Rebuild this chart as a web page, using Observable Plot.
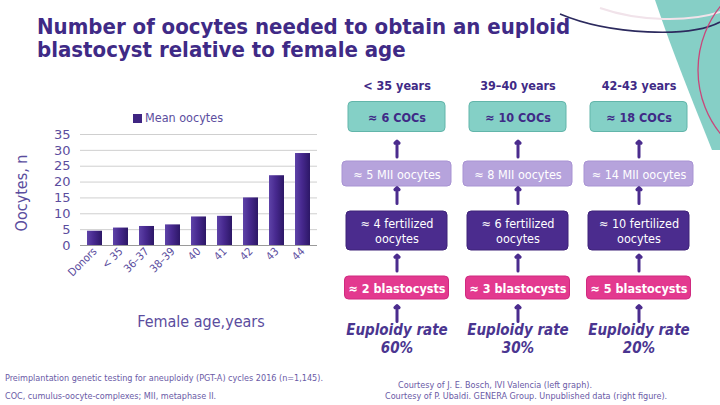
<!DOCTYPE html>
<html><head><meta charset="utf-8">
<script src="https://cdn.jsdelivr.net/npm/d3@7"></script>
<script src="https://cdn.jsdelivr.net/npm/@observablehq/plot@0.6"></script>
<style>
body{margin:0;background:#fff;}
#page{position:relative;width:720px;height:405px;overflow:hidden;font-family:"DejaVu Sans Condensed","DejaVu Sans",sans-serif;background:#fff;}
#page > *{position:absolute;}
.title{left:37px;top:15px;font-size:22px;font-weight:bold;color:#3f2a86;line-height:23px;white-space:nowrap;}
.legend{left:133px;top:110px;font-size:12.5px;color:#5b4d9e;white-space:nowrap;}
.legend span{display:inline-block;width:9px;height:9px;background:#3f2582;margin-right:3px;vertical-align:-1px;}
.ylab{left:21px;top:193px;font-size:16px;color:#5b4d9e;transform:translate(-50%,-50%) rotate(-90deg);white-space:nowrap;}
.xlab{left:201px;top:321px;font-size:16px;color:#5b4d9e;transform:translate(-50%,-50%);white-space:nowrap;}
.foot{font-size:9px;color:#6a5aa6;white-space:nowrap;}
</style></head><body>
<div id="page">
  <svg width="720" height="405" style="left:0;top:0">
    <path d="M655,0 C670,45 690,95 712,150 L720,150 L720,0 Z" fill="#86cfc6"/>
    <path d="M560,14 C610,35 690,38 720,22" fill="none" stroke="#2c2a5e" stroke-width="1.6"/>
    <path d="M600,8 C640,22 690,22 720,12" fill="none" stroke="#f1e3ea" stroke-width="2"/>
    <circle cx="800" cy="70" r="102" fill="none" stroke="#c9467a" stroke-width="1.3"/>
  </svg>
  <div class="title">Number of oocytes needed to obtain an euploid<br>blastocyst relative to female age</div>
  <div class="legend"><span></span>Mean oocytes</div>
  <div class="ylab">Oocytes, n</div>
  <div class="xlab">Female age,years</div>
  <div id="chart" style="left:0;top:100px"></div>
  <div id="flow" style="left:330px;top:70px"></div>
  <div class="foot" style="left:5px;top:373px">Preimplantation genetic testing for aneuploidy (PGT-A) cycles 2016 (n=1,145).</div>
  <div class="foot" style="left:5px;top:391px">COC, cumulus-oocyte-complexes; MII, metaphase II.</div>
  <div class="foot" style="right:128px;top:380px">Courtesy of J. E. Bosch, IVI Valencia (left graph).</div>
  <div class="foot" style="left:385px;top:391px">Courtesy of P. Ubaldi. GENERA Group. Unpublished data (right figure).</div>
</div>
<script>
// ---- data ----
const ageGroups = ["Donors", "< 35", "36–37", "38–39", "40", "41", "42", "43", "44"];
const meanOocytes = [4.5, 5.5, 6, 6.5, 9, 9.2, 15, 22, 29];
const yTicks = [0, 5, 10, 15, 20, 25, 30, 35];

const flowGroups = ["< 35 years", "39–40 years", "42-43 years"];
const cocs = [6, 10, 18];
const miiOocytes = [5, 8, 14];
const fertilized = [4, 6, 10];
const blastocysts = [2, 3, 5];
const euploidyRate = [60, 30, 20];
const stages = ["COCs", "MII", "fertilized", "blastocysts"];

// ---- bar chart ----
const bars = ageGroups.map((g, i) => ({group: g, value: meanOocytes[i]}));
const defs = () => {
  const d = d3.create("svg:defs");
  const g = d.append("linearGradient").attr("id", "barGrad").attr("x1", 0).attr("x2", 1).attr("y1", 0).attr("y2", 0);
  g.append("stop").attr("offset", "0%").attr("stop-color", "#5e43a8");
  g.append("stop").attr("offset", "45%").attr("stop-color", "#47298f");
  g.append("stop").attr("offset", "100%").attr("stop-color", "#2c1766");
  return d.node();
};
const chart = Plot.plot({
  width: 330, height: 200,
  marginLeft: 80, marginRight: 13, marginTop: 34, marginBottom: 55,
  style: {fontFamily: "DejaVu Sans Condensed, DejaVu Sans, sans-serif", color: "#5b4d9e", background: "transparent", overflow: "visible"},
  x: {type: "band", domain: ageGroups, paddingInner: 0.43, paddingOuter: 0.2, axis: null},
  y: {domain: [0, 35], axis: null},
  marks: [
    defs,
    Plot.ruleY(yTicks.filter(t => t > 0), {stroke: "#cfcfcf"}),
    Plot.barY(bars, {x: "group", y: "value", fill: "url(#barGrad)"}),
    Plot.ruleY([0], {stroke: "#9a9a9a"}),
    Plot.axisY({ticks: yTicks, tickSize: 0, tickPadding: 10, fontSize: 13, fontFamily: "DejaVu Sans, sans-serif", label: null}),
    Plot.axisX({tickSize: 0, tickRotate: -45, fontSize: 11, tickPadding: 4, label: null})
  ]
});
document.getElementById("chart").append(chart);

// ---- flow diagram ----
const rows = flowGroups.flatMap((g, i) => [
  {group: g, stage: "COCs", label: `≈ ${cocs[i]} COCs`},
  {group: g, stage: "MII", label: `≈ ${miiOocytes[i]} MII oocytes`},
  {group: g, stage: "fertilized", label: `≈ ${fertilized[i]} fertilized\noocytes`},
  {group: g, stage: "blastocysts", label: `≈ ${blastocysts[i]} blastocysts`}
]);
const boxStyle = {
  COCs: {fill: "#84d0c6", stroke: "#62b5aa", text: "#3f2a86", weight: "bold", ix: 12, iy: 13.5, fs: 12.5},
  MII: {fill: "#b6a3dc", stroke: "#a893d3", text: "#ffffff", weight: "normal", ix: 6, iy: 16, fs: 12.5},
  fertilized: {fill: "#4b2c8e", stroke: "#3e2279", text: "#ffffff", weight: "normal", ix: 10, iy: 9, fs: 12.5},
  blastocysts: {fill: "#e3398f", stroke: "#d02a80", text: "#ffffff", weight: "bold", ix: 8.5, iy: 17, fs: 12.5}
};
const arrowOffsets = [["COCs", 32], ["MII", 21.5], ["fertilized", 32], ["blastocysts", 25.5]];
const flowMarks = [];
for (const s of stages) {
  const st = boxStyle[s];
  const data = rows.filter(r => r.stage === s);
  flowMarks.push(Plot.cell(data, {x: "group", y: "stage", fill: st.fill, stroke: st.stroke, rx: 4,
    insetLeft: st.ix, insetRight: st.ix, insetTop: st.iy, insetBottom: st.iy}));
  flowMarks.push(Plot.text(data, {x: "group", y: "stage", text: "label", fill: st.text, fontWeight: st.weight,
    fontSize: st.fs, lineHeight: 1.2}));
}
for (const [s, dy] of arrowOffsets) {
  flowMarks.push(Plot.vector(flowGroups, {x: d => d, y: () => s, dy, length: 16, rotate: 0, r: 2.3,
    anchor: "middle", stroke: "#4b2c8e", strokeWidth: 3}));
}
flowMarks.push(Plot.text(flowGroups, {x: d => d, y: () => "COCs", dy: -31, text: d => d,
  fill: "#3f2a86", fontWeight: "bold", fontSize: 12.5}));
flowMarks.push(Plot.text(flowGroups.map((g, i) => ({group: g, rate: euploidyRate[i]})), {
  x: "group", y: () => "blastocysts", dy: 50.5, text: d => `Euploidy rate\n${d.rate}%`,
  fill: "#4a3590", fontWeight: "bold", fontStyle: "italic", fontSize: 15, lineHeight: 1.15}));

const flow = Plot.plot({
  width: 390, height: 290,
  marginLeft: 6, marginRight: 21, marginTop: 17.5, marginBottom: 44.5,
  style: {fontFamily: "DejaVu Sans Condensed, DejaVu Sans, sans-serif", background: "transparent", overflow: "visible"},
  x: {type: "band", domain: flowGroups, padding: 0, axis: null},
  y: {type: "band", domain: stages, padding: 0, axis: null},
  marks: flowMarks
});
document.getElementById("flow").append(flow);
</script>
</body></html>
